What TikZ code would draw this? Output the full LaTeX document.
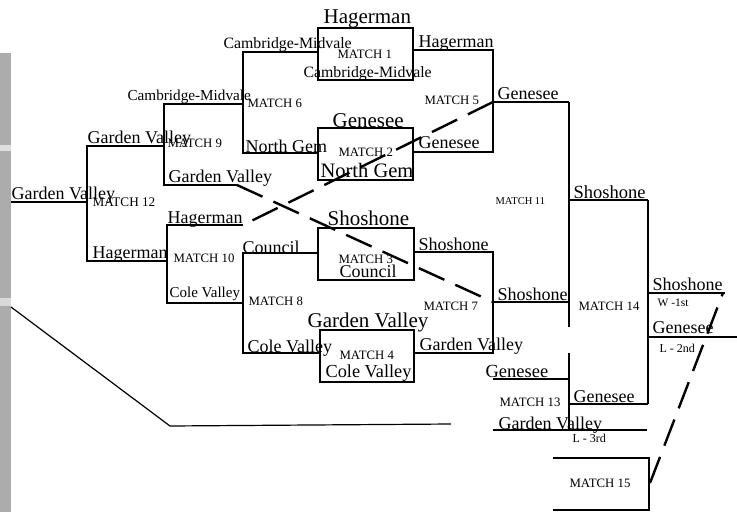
\documentclass[tikz,border=0pt]{standalone}
\usepackage{fontspec}
\setmainfont{Liberation Serif}
\begin{document}
\begin{tikzpicture}[x=1pt,y=-1pt,line width=1.2pt,
  lbl/.style={anchor=base west,inner sep=0pt,font=\fontsize{18}{18}\selectfont},
  bigl/.style={lbl,font=\fontsize{21}{21}\selectfont},
  cmv/.style={lbl,font=\fontsize{15.8}{16}\selectfont},
  mlbl/.style={lbl,font=\fontsize{12.8}{13}\selectfont},
  slbl/.style={lbl,font=\fontsize{12}{12}\selectfont},
  box/.style={draw,rectangle,inner sep=0pt,minimum height=52pt},
  dsh/.style={line width=2.4pt,dash pattern=on 28pt off 12pt},
  thk/.style={line width=2.6pt}]
\useasboundingbox (0,0) rectangle (737,512);
% scanned margin strip
\fill[gray!65] (0,53) rectangle (11,512);
\fill[gray!25] (0,145) rectangle (11,151);
\fill[gray!30] (0,298) rectangle (11,306);

% boxes
\node[box,minimum width=95pt] (b1) at (365.5,54) {};
\node[box,minimum width=95pt] (b2) at (365.5,154) {};
\node[box,minimum width=96pt] (b3) at (366,254) {};
\node[box,minimum width=94pt] (b4) at (367,356) {};

% coordinates
\coordinate (m6t) at (243,52);  \coordinate (m6b) at (243,153); \coordinate (m6o) at (243,104);
\coordinate (m5t) at (493,50);  \coordinate (m5b) at (493,152); \coordinate (m5o) at (493,102);
\coordinate (m9t) at (164,104); \coordinate (m9b) at (164,185); \coordinate (m9e) at (237,185); \coordinate (m9o) at (164,146);
\coordinate (m12t) at (87,146); \coordinate (m12b) at (87,261); \coordinate (m12o) at (87,202); \coordinate (gvend) at (11,202);
\coordinate (m10t) at (167,225); \coordinate (m10b) at (167,303); \coordinate (m10e) at (243,225); \coordinate (m10o) at (167,261);
\coordinate (m8t) at (243,253); \coordinate (m8b) at (243,353); \coordinate (m8o) at (243,303);
\coordinate (m7t) at (493,252); \coordinate (m7b) at (493,353); \coordinate (m7o) at (493,302);
\coordinate (m11t) at (569,102); \coordinate (m11g) at (569,327); \coordinate (m11b) at (569,302); \coordinate (m11o) at (569,200);
\coordinate (k1) at (569,293); \coordinate (k2) at (569,353); \coordinate (k3) at (569,379);
\coordinate (m13a) at (493,379); \coordinate (m13b) at (569,430); \coordinate (m13c) at (493,430); \coordinate (m13d) at (647,430); \coordinate (m13o) at (569,404);
\coordinate (m14t) at (648,200); \coordinate (m14b) at (648,404); \coordinate (m14w) at (648,293); \coordinate (m14l) at (648,337);
\coordinate (wend) at (725,293); \coordinate (lend) at (737,337);
\coordinate (m15a) at (553,458); \coordinate (m15b) at (649,458); \coordinate (m15c) at (649,510); \coordinate (m15d) at (553,510);
\coordinate (m15x) at (650,483); \coordinate (wdash) at (723,293);
\coordinate (s0) at (11,307); \coordinate (s1) at (170,426); \coordinate (s2) at (451,424);

% brackets
\draw (m6t -| b1.west) -- (m6t) -- (m6b) -- (m6b -| b2.west);
\draw (b1.east |- m5t) -- (m5t) -- (m5b) -- (b2.east |- m5b);
\draw (m5o) -- (m11t);
\draw (m6o) -- (m9t) -- (m9b) -- (m9e);
\draw (m9o) -- (m12t) -- (m12b) -- (m10o);
\draw (m12o) -- (gvend);
\draw (m10e) -- (m10t) -- (m10b) -- (m8o);
\draw (b3.west |- m8t) -- (m8t) -- (m8b) -- (b4.west |- m8b);
\draw (b3.east |- m7t) -- (m7t) -- (m7b) -- (b4.east |- m7b);
\draw (m7o) -- (m11b);
\draw (m11t) -- (m11g);
\draw (m11o) -- (m14t);
\draw[thk] (k1) -- (m11g);
\draw[thk] (k2) -- (k3);
\draw (k3) -- (m13b);
\draw (m13a) -- (k3);
\draw (m13c) -- (m13d);
\draw (m13o) -- (m14b);
\draw (m14t) -- (m14b);
\draw (m14w) -- (wend);
\draw (m14l) -- (lend);
\draw (m15a) -- (m15b) -- (m15c) -- (m15d);
\draw (s0) -- (s1) -- (s2);

% dashed lines
\draw[dsh] (m5o) -- (m10e);
\draw[dsh] (m9e) -- (m7o);
\draw[dsh] (m15x) -- (wdash);

% labels
\node[bigl] (t1) at (323,23) {Hagerman};
\node[cmv] (t2) at (223,48) {Cambridge-Midvale};
\node[mlbl] (t3) at (337,58) {MATCH 1};
\node[cmv] (t4) at (303,77) {Cambridge-Midvale};
\node[lbl] (t5) at (418,47) {Hagerman};
\node[cmv,font=\fontsize{15.2}{15}\selectfont] (t6) at (127,100) {Cambridge-Midvale};
\node[mlbl] (t7) at (247,107) {MATCH 6};
\node[mlbl] (t8) at (424,104) {MATCH 5};
\node[lbl] (t9) at (497,99) {Genesee};
\node[bigl] (t10) at (332,127) {Genesee};
\node[lbl] (t11) at (245,152) {North Gem};
\node[mlbl] (t12) at (338,156) {MATCH 2};
\node[lbl] (t13) at (418,148) {Genesee};
\node[lbl,font=\fontsize{20.5}{20}\selectfont] (t14) at (320,177) {North Gem};
\node[lbl] (t15) at (87,143) {Garden Valley};
\node[mlbl] (t16) at (167,147) {MATCH 9};
\node[lbl] (t17) at (168,182) {Garden Valley};
\node[lbl] (t18) at (11,199) {Garden Valley};
\node[mlbl,font=\fontsize{13.2}{13}\selectfont] (t19) at (92,206) {MATCH 12};
\node[lbl] (t20) at (167,223) {Hagerman};
\node[lbl] (t21) at (92,258) {Hagerman};
\node[mlbl] (t22) at (173,262) {MATCH 10};
\node[lbl,font=\fontsize{15}{15}\selectfont] (t23) at (169,297) {Cole Valley};
\node[bigl] (t24) at (327,225) {Shoshone};
\node[lbl] (t25) at (242,253) {Council};
\node[mlbl] (t26) at (338,263) {MATCH 3};
\node[lbl] (t27) at (339,277) {Council};
\node[lbl] (t28) at (418,250) {Shoshone};
\node[mlbl] (t29) at (248,305) {MATCH 8};
\node[mlbl] (t30) at (423,310) {MATCH 7};
\node[bigl] (t31) at (307,327) {Garden Valley};
\node[lbl] (t32) at (247,352) {Cole Valley};
\node[mlbl] (t33) at (339,359) {MATCH 4};
\node[lbl,font=\fontsize{18.3}{18}\selectfont] (t34) at (325,377) {Cole Valley};
\node[lbl] (t35) at (419,350) {Garden Valley};
\node[mlbl,font=\fontsize{10.5}{10}\selectfont] (t36) at (495,204) {MATCH 11};
\node[lbl,font=\fontsize{18.5}{18}\selectfont] (t37) at (573,198) {Shoshone};
\node[lbl] (t38) at (497,300) {Shoshone};
\node[mlbl] (t39) at (578,310) {MATCH 14};
\node[lbl,font=\fontsize{18.5}{18}\selectfont] (t40) at (485,377) {Genesee};
\node[mlbl] (t41) at (499,406) {MATCH 13};
\node[lbl] (t42) at (573,402) {Genesee};
\node[lbl] (t43) at (498,429) {Garden Valley};
\node[slbl] (t44) at (572,442) {L - 3rd};
\node[lbl] (t45) at (652,290) {Shoshone};
\node[slbl,font=\fontsize{11.5}{12}\selectfont] (t46) at (657,306) {W -1st};
\node[lbl] (t47) at (652,333) {Genesee};
\node[slbl] (t48) at (659,352) {L - 2nd};
\node[mlbl] (t49) at (569,487) {MATCH 15};
\end{tikzpicture}
\end{document}
